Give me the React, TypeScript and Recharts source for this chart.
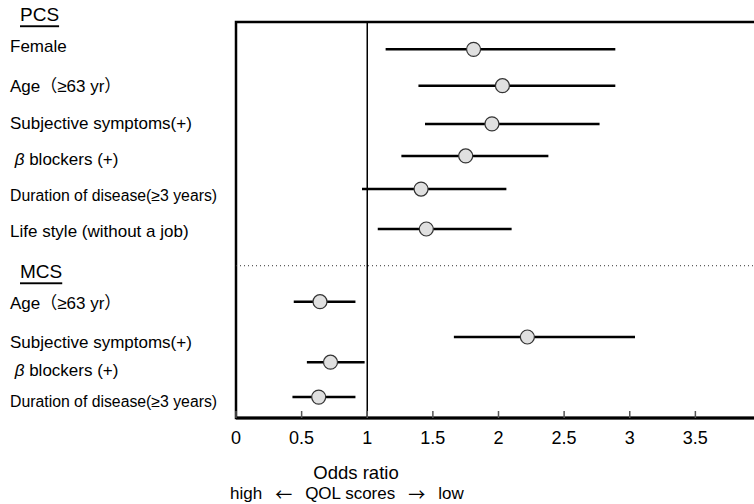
import React from 'react';
import { ScatterChart, Scatter, XAxis, YAxis, ErrorBar, ReferenceLine, ReferenceArea } from 'recharts';

// rows: PCS block (6) then MCS block (4)
const factors = [
  'Female',
  'Age（≥63 yr）',
  'Subjective symptoms(+)',
  ' β blockers (+)',
  'Duration of disease(≥3 years)',
  'Life style (without a job)',
  'Age（≥63 yr）',
  'Subjective symptoms(+)',
  ' β blockers (+)',
  'Duration of disease(≥3 years)',
];
const oddsRatio = [1.81, 2.03, 1.95, 1.75, 1.41, 1.45, 0.64, 2.22, 0.72, 0.63];
const ciLower = [1.14, 1.39, 1.44, 1.26, 0.96, 1.08, 0.44, 1.66, 0.54, 0.43];
const ciUpper = [2.89, 2.89, 2.77, 2.38, 2.06, 2.1, 0.91, 3.04, 0.98, 0.91];
const rowPos = [0.76, 1.77, 2.83, 3.72, 4.64, 5.75, 7.77, 8.75, 9.45, 10.42];
const labelPos = [0.68, 1.78, 2.81, 3.81, 4.81, 5.83, 7.81, 8.89, 9.67, 10.53];

const groupTitles = ['PCS', 'MCS'];
const groupTitlePos = [-0.2, 6.94];
const dividerPos = 6.77;

const xTicks = [0, 0.5, 1, 1.5, 2, 2.5, 3, 3.5];

const data = factors.map((f, i) => ({
  name: f,
  or: oddsRatio[i],
  row: rowPos[i],
  err: [oddsRatio[i] - ciLower[i], ciUpper[i] - oddsRatio[i]],
}));

const labelMap = new Map<number, { text: string; header: boolean }>();
factors.forEach((f, i) => labelMap.set(labelPos[i], { text: f, header: false }));
groupTitles.forEach((t, i) => labelMap.set(groupTitlePos[i], { text: t, header: true }));
const yTicks = [...groupTitlePos, ...labelPos];

const FONT = '"Liberation Sans", Arial, "Noto Sans CJK JP", sans-serif';
const CJK = '"Noto Sans CJK JP", sans-serif';

const LabelTick = ({ y, payload }: any) => {
  const item = labelMap.get(payload.value);
  if (!item) return null;
  if (item.header) {
    return (
      <text x={20} y={y} dominantBaseline="central" fontSize={19} fill="#000"
        textDecoration="underline" fontFamily={FONT}>
        {item.text}
      </text>
    );
  }
  const small = item.text.startsWith('Duration');
  if (item.text.trim().startsWith('β')) {
    return (
      <text x={10} y={y} dominantBaseline="central" fontSize={17} fill="#000"
        fontFamily={FONT} style={{ whiteSpace: 'pre' }}>
        <tspan fontStyle="italic">{' β'}</tspan>
        {item.text.trim().slice(1)}
      </text>
    );
  }
  return (
    <text x={10} y={y} dominantBaseline="central" fontSize={small ? 15.8 : 17} fill="#000"
      fontFamily={FONT}>
      {item.text}
    </text>
  );
};

const Dot = (p: any) => (
  <circle cx={p.cx} cy={p.cy} r={7} fill="#e0e0e0" stroke="#333" strokeWidth={1.2} />
);

export default function App() {
  return (
    <div style={{ position: 'absolute', left: 0, top: 0, width: 754, height: 504, overflow: 'hidden', background: '#fff' }}>
      <ScatterChart width={764} height={504} margin={{ top: 4, right: 3, bottom: 56, left: 0 }}>
        <XAxis
          type="number"
          dataKey="or"
          domain={[0, 4]}
          ticks={xTicks}
          interval={0}
          tickSize={-7}
          tickMargin={20}
          tickLine={{ stroke: '#555', strokeWidth: 1.5 }}
          axisLine={{ stroke: '#000', strokeWidth: 3 }}
          tick={{ fontSize: 18, fill: '#000', fontFamily: FONT }}
          height={30}
        />
        <YAxis
          type="number"
          dataKey="row"
          domain={[-0.5, 11]}
          reversed
          ticks={yTicks}
          interval={0}
          axisLine={false}
          tickLine={false}
          tick={<LabelTick />}
          width={236}
        />
        <ReferenceArea x1={0} x2={4} y1={0} y2={11} fill="none" fillOpacity={0}
          stroke="#000" strokeWidth={2.5} ifOverflow="visible" />
        <ReferenceLine y={dividerPos} stroke="#333" strokeDasharray="1 3" strokeWidth={1} />
        <ReferenceLine segment={[{ x: 1, y: 0 }, { x: 1, y: 11 }]} stroke="#000" strokeWidth={1.5} />
        <Scatter data={data} isAnimationActive={false} shape={() => <g />}>
          <ErrorBar dataKey="err" direction="x" width={0} stroke="#000" strokeWidth={2.5} isAnimationActive={false} />
        </Scatter>
        <Scatter data={data} isAnimationActive={false} shape={<Dot />} />
      </ScatterChart>
      <div style={{ position: 'absolute', left: 356, top: 473, transform: 'translate(-50%, -50%)', fontFamily: FONT, fontSize: 18.5, whiteSpace: 'nowrap' }}>
        Odds ratio
      </div>
      <div style={{ position: 'absolute', left: 230, top: 493, transform: 'translateY(-50%)', fontFamily: FONT, fontSize: 17, whiteSpace: 'nowrap', display: 'flex', alignItems: 'center' }}>
        <span>high</span>
        <span style={{ fontFamily: CJK, margin: '0 13px' }}>←</span>
        <span>QOL scores</span>
        <span style={{ fontFamily: CJK, margin: '0 13px' }}>→</span>
        <span>low</span>
      </div>
    </div>
  );
}
